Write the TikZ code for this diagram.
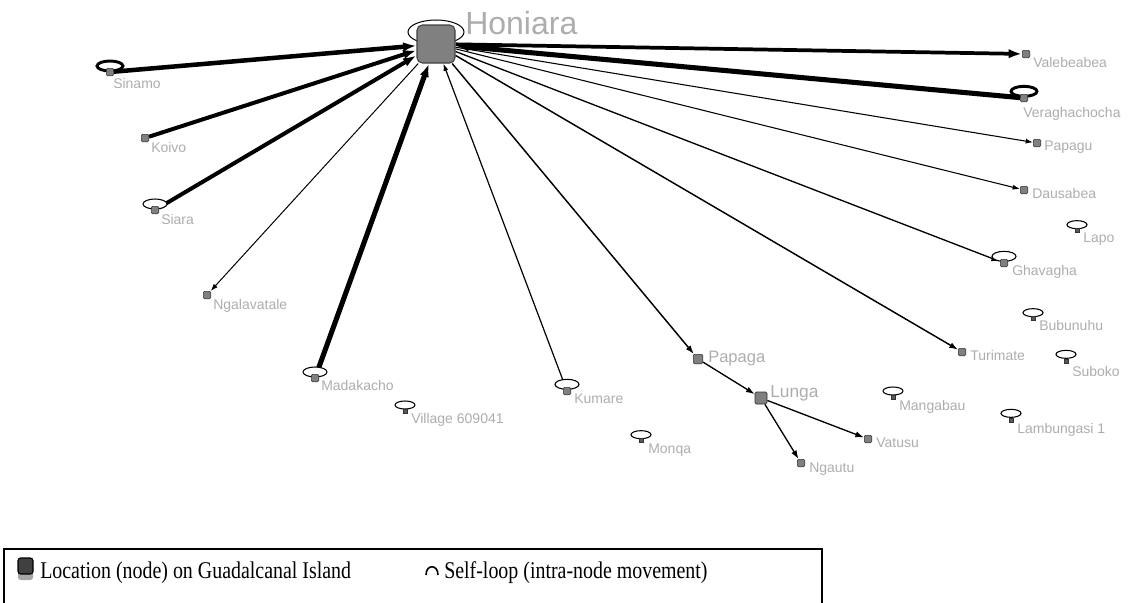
\documentclass[tikz,border=0pt]{standalone}
\usepackage{fontspec}
\setmainfont{Liberation Sans}
\newfontfamily\legendfont{Liberation Serif}
\usetikzlibrary{arrows.meta}
\pgfdeclarelayer{loops}
\pgfdeclarelayer{front}
\pgfsetlayers{main,loops,front}

\begin{document}
\begin{tikzpicture}[x=0.75pt,y=-0.75pt,
  loc/.style={draw=black!80, fill=black!50, line width=0.5pt, rounded corners=0.8pt,
              minimum size=5.5pt, inner sep=0pt},
  tinyloc/.style={draw=black!80, fill=black!65, line width=0.4pt, minimum size=3pt, inner sep=0pt},
  hub/.style={draw=black!75, fill=black!50, line width=0.8pt, rounded corners=4pt,
              minimum size=28.5pt, inner sep=0pt},
  lab/.style={text=black!32, font=\fontsize{10.5}{12}\selectfont, anchor=base west, inner sep=0pt},
  legendtext/.style={anchor=base west, inner sep=0pt, font=\legendfont\fontsize{18}{21}\selectfont},
  flow/.style={draw=black, line width=#1},
  tipthin/.style={-{Latex[length=5.5pt,width=3.8pt]}},
  tipmid/.style={-{Latex[length=6.5pt,width=4.5pt]}},
  tipthick/.style={-{Latex[length=10pt,width=7pt]}},
  loopsm/.style={draw=black, fill=white, line width=0.8pt},
  loopbig/.style={draw=black, fill=white, line width=2.2pt},
]
\useasboundingbox (0,0) rectangle (1129,603);

% ---- locations ----
\begin{pgfonlayer}{front}
\node[hub] (Honiara) at (436,44) {};
\node[loc] (Sinamo) at (110,72) {};
\node[loc] (Koivo) at (145,138) {};
\node[loc] (Siara) at (155,210) {};
\node[loc] (Ngalavatale) at (207,295) {};
\node[loc] (Madakacho) at (315,378) {};
\node[tinyloc] (Village) at (405,411) {};
\node[loc] (Kumare) at (567,391) {};
\node[tinyloc] (Monqa) at (641,440) {};
\node[loc, minimum size=7pt] (Papaga) at (698,359) {};
\node[loc, minimum size=9pt, rounded corners=1pt] (Lunga) at (761,398) {};
\node[loc] (Ngautu) at (801,463) {};
\node[loc] (Vatusu) at (868,439) {};
\node[tinyloc] (Mangabau) at (893,397) {};
\node[tinyloc] (Lambungasi) at (1011,420) {};
\node[loc] (Turimate) at (962,352) {};
\node[tinyloc] (Suboko) at (1066,361) {};
\node[tinyloc] (Bubunuhu) at (1033,318) {};
\node[loc] (Ghavagha) at (1004,263) {};
\node[tinyloc] (Lapo) at (1077,230) {};
\node[loc] (Valebeabea) at (1026,54) {};
\node[loc] (Veraghachocha) at (1024,98) {};
\node[loc] (Papagu) at (1037,143) {};
\node[loc] (Dausabea) at (1024,190) {};
\end{pgfonlayer}

% ---- labels ----
\node[lab, font=\fontsize{24}{28}\selectfont] (Honiara-l) at (465,35) {Honiara};
\node[lab] (Sinamo-l) at (113,88) {Sinamo};
\node[lab] (Koivo-l) at (151,152) {Koivo};
\node[lab] (Siara-l) at (161,224) {Siara};
\node[lab] (Ngalavatale-l) at (213,309) {Ngalavatale};
\node[lab] (Madakacho-l) at (321,390) {Madakacho};
\node[lab] (Village-l) at (411,423) {Village 609041};
\node[lab] (Kumare-l) at (574,403) {Kumare};
\node[lab] (Monqa-l) at (648,453) {Monqa};
\node[lab, font=\fontsize{12.4}{14}\selectfont] (Papaga-l) at (708,362) {Papaga};
\node[lab, font=\fontsize{13}{15}\selectfont] (Lunga-l) at (770,397) {Lunga};
\node[lab] (Ngautu-l) at (809,472) {Ngautu};
\node[lab] (Vatusu-l) at (876,447) {Vatusu};
\node[lab] (Mangabau-l) at (899,410) {Mangabau};
\node[lab] (Lambungasi-l) at (1017,433) {Lambungasi 1};
\node[lab] (Turimate-l) at (970,360) {Turimate};
\node[lab] (Suboko-l) at (1072,376) {Suboko};
\node[lab] (Bubunuhu-l) at (1039,330) {Bubunuhu};
\node[lab] (Ghavagha-l) at (1012,275) {Ghavagha};
\node[lab] (Lapo-l) at (1083,242) {Lapo};
\node[lab] (Valebeabea-l) at (1033,67) {Valebeabea};
\node[lab] (Veraghachocha-l) at (1023,117) {Veraghachocha};
\node[lab] (Papagu-l) at (1044,150) {Papagu};
\node[lab] (Dausabea-l) at (1032,198) {Dausabea};

% ---- flows between locations ----
\draw[flow=3.4pt, tipthick] (Sinamo) -- (Honiara);
\draw[flow=3pt, tipthick] (Koivo) -- (Honiara);
\draw[flow=3pt, tipthick] (Siara) -- (Honiara);
\draw[flow=0.75pt, tipthin] (Honiara) -- (Ngalavatale);
\draw[flow=3.8pt, tipthick] (Madakacho) -- (Honiara);
\draw[flow=0.9pt, tipthin] (Kumare) -- (Honiara);
\draw[flow=1.1pt, tipmid] (Honiara) -- (Papaga);
\draw[flow=1.1pt, tipmid] (Honiara) -- (Turimate);
\draw[flow=1pt, tipmid] (Honiara) -- (Ghavagha);
\draw[flow=0.8pt, tipthin] (Honiara) -- (Dausabea);
\draw[flow=0.8pt, tipthin] (Honiara) -- (Papagu);
\draw[flow=3.8pt, tipthick] (Veraghachocha) -- (Honiara);
\draw[flow=2.8pt, tipthick] (Honiara) -- (Valebeabea);
\draw[flow=1pt, tipmid] (Papaga) -- (Lunga);
\draw[flow=1pt, tipmid] (Lunga) -- (Ngautu);
\draw[flow=1pt, tipmid] (Lunga) -- (Vatusu);

% ---- self-loops ----
\begin{pgfonlayer}{loops}
\draw[draw=black, line width=0.75pt] ([yshift=9pt]Honiara.center) ellipse [x radius=21pt, y radius=9pt];
\draw[loopbig] ([yshift=4.5pt]Sinamo.center) ellipse [x radius=9.75pt, y radius=3.75pt];
\draw[loopbig] ([yshift=5pt]Veraghachocha.center) ellipse [x radius=9.75pt, y radius=3.75pt];
\draw[loopsm] ([yshift=4.5pt]Siara.center) ellipse [x radius=9pt, y radius=3.75pt];
\draw[loopsm] ([yshift=4.5pt]Madakacho.center) ellipse [x radius=9pt, y radius=3.75pt];
\draw[loopsm] ([yshift=5pt]Kumare.center) ellipse [x radius=9pt, y radius=3.75pt];
\draw[loopsm] ([yshift=5pt]Ghavagha.center) ellipse [x radius=9pt, y radius=3.75pt];
\draw[loopsm] ([yshift=4.5pt]Village.center) ellipse [x radius=7.5pt, y radius=3pt];
\draw[loopsm] ([yshift=4pt]Monqa.center) ellipse [x radius=7.5pt, y radius=3pt];
\draw[loopsm] ([yshift=4.5pt]Mangabau.center) ellipse [x radius=7.5pt, y radius=3pt];
\draw[loopsm] ([yshift=5pt]Lambungasi.center) ellipse [x radius=7.5pt, y radius=3pt];
\draw[loopsm] ([yshift=5pt]Suboko.center) ellipse [x radius=7.5pt, y radius=3pt];
\draw[loopsm] ([yshift=4pt]Bubunuhu.center) ellipse [x radius=7.5pt, y radius=3pt];
\draw[loopsm] ([yshift=4pt]Lapo.center) ellipse [x radius=7.5pt, y radius=3pt];
\end{pgfonlayer}

% ---- legend ----
\draw[line width=1.5pt] (4,603) -- (4,549) -- (822,549) -- (822,603);
\fill[black!35, rounded corners=2pt] (18,566) rectangle (33,580);
\draw[fill=black!75, rounded corners=2pt, line width=0.8pt] (18,558) rectangle (33,574);
\node[legendtext] (legend-loc) at (40,578)
  {\scalebox{0.83}[1]{Location (node) on Guadalcanal Island}};
\draw[line width=1.2pt] (426,575) .. controls (426,564) and (438,564) .. (438,575);
\node[legendtext] (legend-loop) at (444,578)
  {\scalebox{0.83}[1]{Self-loop (intra-node movement)}};
\end{tikzpicture}
\end{document}
